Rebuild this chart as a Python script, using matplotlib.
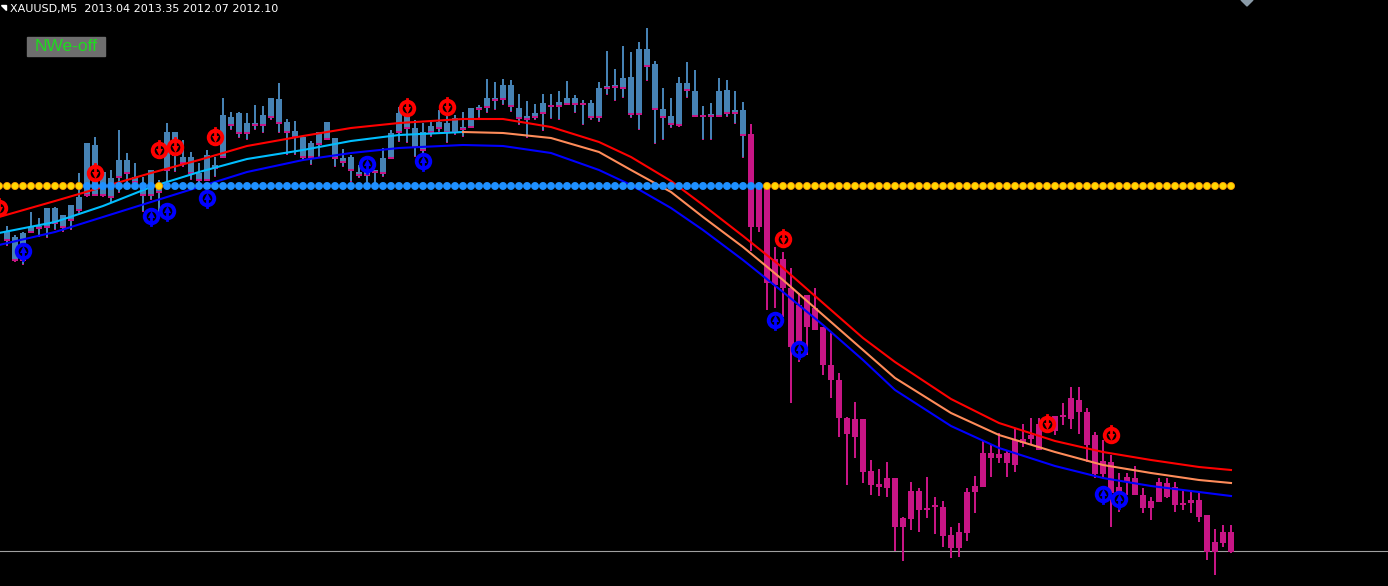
import matplotlib
matplotlib.use('Agg')
import matplotlib.pyplot as plt
from matplotlib.patches import Rectangle, Polygon
import numpy as np

# candle levels, in screen rows (smaller = higher price)
wick_top = [226, 235, 232, 212, 218, 208, 207, 215, 205, 173,
            143, 137, 172, 170, 130, 153, 163, 177, 170, 180,
            123, 132, 140, 152, 163, 150, 157, 98, 112, 112,
            113, 105, 106, 98, 83, 119, 121, 137, 141, 132,
            122, 138, 149, 155, 165, 157, 170, 148, 130, 107,
            103, 120, 123, 122, 110, 113, 115, 112, 108, 105,
            79, 82, 79, 80, 94, 101, 104, 94, 94, 91,
            81, 95, 100, 100, 82, 51, 69, 46, 52, 42,
            28, 61, 88, 98, 77, 62, 70, 106, 103, 78,
            80, 91, 102, 124, 182, 186, 247, 252, 268, 293,
            295, 288, 327, 333, 373, 417, 402, 419, 460, 469,
            462, 478, 517, 482, 488, 477, 497, 501, 527, 523,
            488, 476, 440, 445, 433, 450, 428, 424, 418, 418,
            417, 416, 403, 387, 387, 408, 432, 440, 455, 473,
            473, 466, 488, 497, 478, 478, 482, 491, 490, 493,
            515, 529, 525, 525]
body_top = [232, 237, 233, 227, 226, 208, 208, 215, 205, 197,
            143, 145, 172, 178, 160, 160, 177, 187, 170, 187,
            132, 132, 157, 157, 173, 155, 165, 115, 117, 113,
            123, 123, 115, 98, 99, 122, 131, 137, 143, 132,
            122, 138, 158, 157, 172, 172, 170, 158, 133, 113,
            108, 128, 132, 126, 122, 123, 118, 127, 108, 107,
            98, 98, 85, 85, 108, 116, 113, 103, 105, 102,
            98, 98, 103, 103, 88, 86, 85, 78, 77, 49,
            49, 64, 109, 116, 83, 83, 91, 115, 114, 91,
            90, 110, 110, 134, 184, 188, 259, 259, 288, 305,
            295, 308, 327, 365, 380, 418, 419, 419, 471, 484,
            478, 478, 518, 491, 491, 508, 505, 507, 535, 532,
            492, 486, 453, 453, 454, 453, 440, 439, 435, 424,
            422, 416, 415, 398, 400, 412, 435, 461, 462, 487,
            477, 478, 495, 501, 482, 483, 487, 503, 500, 500,
            515, 542, 532, 532]
body_bot = [240, 260, 260, 232, 228, 227, 223, 227, 220, 210,
            195, 195, 195, 197, 177, 173, 182, 195, 195, 192,
            170, 155, 163, 173, 180, 180, 168, 157, 125, 133,
            133, 125, 125, 117, 123, 132, 137, 157, 157, 144,
            139, 158, 162, 170, 175, 175, 172, 173, 158, 132,
            128, 147, 150, 132, 128, 132, 132, 129, 127, 109,
            107, 100, 99, 106, 118, 119, 117, 113, 106, 106,
            104, 104, 104, 117, 117, 88, 87, 88, 114, 114,
            66, 109, 117, 124, 125, 90, 116, 116, 116, 116,
            113, 113, 135, 227, 227, 283, 285, 288, 347, 355,
            327, 330, 365, 380, 418, 434, 437, 472, 485, 487,
            488, 527, 527, 519, 510, 510, 507, 536, 548, 548,
            533, 492, 487, 458, 458, 463, 465, 443, 439, 450,
            425, 431, 417, 419, 412, 445, 474, 474, 493, 495,
            482, 495, 508, 508, 502, 497, 505, 504, 503, 517,
            552, 552, 543, 552]
wick_bot = [246, 262, 265, 233, 237, 238, 230, 232, 230, 213,
            197, 195, 197, 203, 193, 183, 183, 212, 200, 213,
            183, 172, 167, 180, 187, 180, 177, 157, 130, 138,
            140, 130, 133, 120, 133, 155, 155, 160, 165, 157,
            140, 167, 167, 182, 178, 183, 185, 177, 158, 142,
            143, 157, 157, 137, 132, 143, 135, 137, 127, 118,
            113, 110, 105, 112, 125, 138, 120, 131, 119, 120,
            104, 113, 125, 120, 122, 95, 101, 98, 118, 130,
            81, 144, 140, 128, 127, 98, 116, 140, 140, 117,
            117, 124, 158, 251, 232, 310, 308, 317, 403, 362,
            355, 330, 375, 398, 437, 485, 458, 483, 495, 496,
            497, 551, 561, 530, 532, 518, 534, 547, 558, 557,
            541, 513, 487, 477, 463, 477, 472, 447, 444, 450,
            432, 435, 425, 429, 434, 462, 478, 477, 527, 512,
            495, 495, 513, 520, 502, 498, 512, 510, 513, 522,
            560, 575, 547, 553]
n_blue = 93  # candles before the break are steel blue, after it magenta

# trend dots (from candle -1), y = yellow, b = blue
dot_level = 186
dot_state = 'y' * 11 + 'b' * 9 + 'y' + 'b' * 75 + 'y' * 59

# the three bands, sampled at candle indices
line_idx = [-1, 6, 12, 18, 24, 30, 37, 43, 49, 57, 62, 68, 74, 78, 83, 87, 92,
            97, 102, 107, 111, 118, 124, 131, 137, 143, 149, 153]
red_band = [217, 201, 187, 173, 160, 146, 136, 128, 123, 119, 119, 127, 142, 157,
            181, 205, 236, 268, 303, 338, 362, 399, 423, 441, 452, 460, 467, 470]
mid_band = [233, 222, 206, 187, 172, 159, 150, 141, 135, 132, 133, 138, 152, 170,
            192, 217, 247, 280, 315, 350, 378, 413, 435, 452, 465, 473, 480, 483]
blue_band = [245, 232, 217, 202, 187, 172, 160, 153, 148, 145, 146, 153, 170, 185,
             208, 230, 260, 292, 325, 360, 390, 426, 448, 466, 478, 486, 492, 496]
mid_switch = 57

# signal arrows
sell_idx = [-1, 11, 19, 21, 26, 50, 55, 97, 130, 138]
sell_lvl = [208, 173, 150, 147, 137, 108, 107, 239, 424, 435]
buy_idx = [2, 18, 20, 25, 45, 52, 96, 99, 137, 139]
buy_lvl = [251, 216, 211, 198, 164, 161, 320, 349, 494, 499]

base_level = 551

W, H = 1388, 586
fig = plt.figure(figsize=(W / 100, H / 100), dpi=100, facecolor='black')
ax = fig.add_axes([0, 0, 1, 1])
ax.set_facecolor('black')
ax.set_xlim(-0.875, 172.625)
ax.set_ylim(H, 0)
ax.axis('off')

steel = '#4682B4'
mag = '#C71585'

ax.axhline(base_level, color='#A0A0A0', lw=0.8, zorder=1)

# bands
idx = np.array(line_idx)
ax.plot(idx, red_band, color='#FF0000', lw=1.5, zorder=4)
ax.plot(idx, blue_band, color='#0000FF', lw=1.5, zorder=4)
k = line_idx.index(mid_switch)
ax.plot(idx[:k + 1], mid_band[:k + 1], color='#00BFFF', lw=1.5, zorder=4)
ax.plot(idx[k:], mid_band[k:], color='#FF8C5A', lw=1.5, zorder=4)

# candles
x = np.arange(len(wick_top))
wt, bt = np.array(wick_top), np.array(body_top)
bb, wb = np.array(body_bot), np.array(wick_bot)
cols = [steel if i < n_blue else mag for i in x]
ax.bar(x, wb - wt, bottom=wt, width=0.27, color=cols, zorder=2, linewidth=0)
ax.bar(x, np.maximum(bb - bt, 1.5), bottom=bt, width=0.84, color=cols, zorder=3, linewidth=0)
# magenta close marks on the blue candles
ax.bar(x[:n_blue], 1.6, bottom=bb[:n_blue] - 1, width=0.84, color=mag, zorder=3.5, linewidth=0)
tip = wb[:n_blue] > bb[:n_blue]
ax.bar(x[:n_blue][tip], 1.4, bottom=wb[:n_blue][tip] - 1, width=0.27, color=mag, zorder=3.5, linewidth=0)

# dots
dx = np.arange(-1, len(dot_state) - 1)
dcol = ['#FFD700' if s == 'y' else '#1E90FF' for s in dot_state]
ecol = ['#FF9900' if s == 'y' else '#1E90FF' for s in dot_state]
ax.scatter(dx, [dot_level] * len(dx), s=26, c=dcol, edgecolors=ecol, linewidths=0.6, zorder=5)

# arrows
def signal(ix, lv, color, down):
    ax.scatter(ix, lv, s=95, facecolors='black', edgecolors=color, linewidths=2.8, zorder=6)
    for i, v in zip(ix, lv):
        if down:
            ax.plot([i, i], [v - 9, v + 1], color=color, lw=2.0, zorder=7)
        else:
            ax.plot([i, i], [v - 1, v + 9], color=color, lw=2.0, zorder=7)
    head = [v + 2 for v in lv] if down else [v - 2 for v in lv]
    ax.scatter(ix, head, s=26, marker='v' if down else '^', color=color, zorder=7, linewidths=0)

signal(sell_idx, sell_lvl, '#FF0000', True)
signal(buy_idx, buy_lvl, '#0000FF', False)

# header text and labels
fig.text(10 / W, 1 - 9 / H, 'XAUUSD,M5  2013.04 2013.35 2012.07 2012.10',
         color='white', fontsize=8, va='center', ha='left', family='DejaVu Sans')
fig.patches.append(Polygon([[1 / W, 1 - 5 / H], [6 / W, 1 - 5 / H], [6 / W, 1 - 10 / H]],
                           closed=True, transform=fig.transFigure, color='white'))
fig.patches.append(Rectangle((27 / W, 1 - 56 / H), 78 / W, 19 / H,
                             transform=fig.transFigure, color='#6E6E6E'))
fig.text(66 / W, 1 - 46.5 / H, 'NWe-off', color='#1EDC1E', fontsize=12.5,
         va='center', ha='center', family='Liberation Sans')
fig.patches.append(Polygon([[1241 / W, 1.0], [1253 / W, 1.0], [1247 / W, 1 - 6 / H]],
                           closed=True, transform=fig.transFigure, color='#8A9BA8'))

fig.savefig('out.png', dpi=100, facecolor='black')
